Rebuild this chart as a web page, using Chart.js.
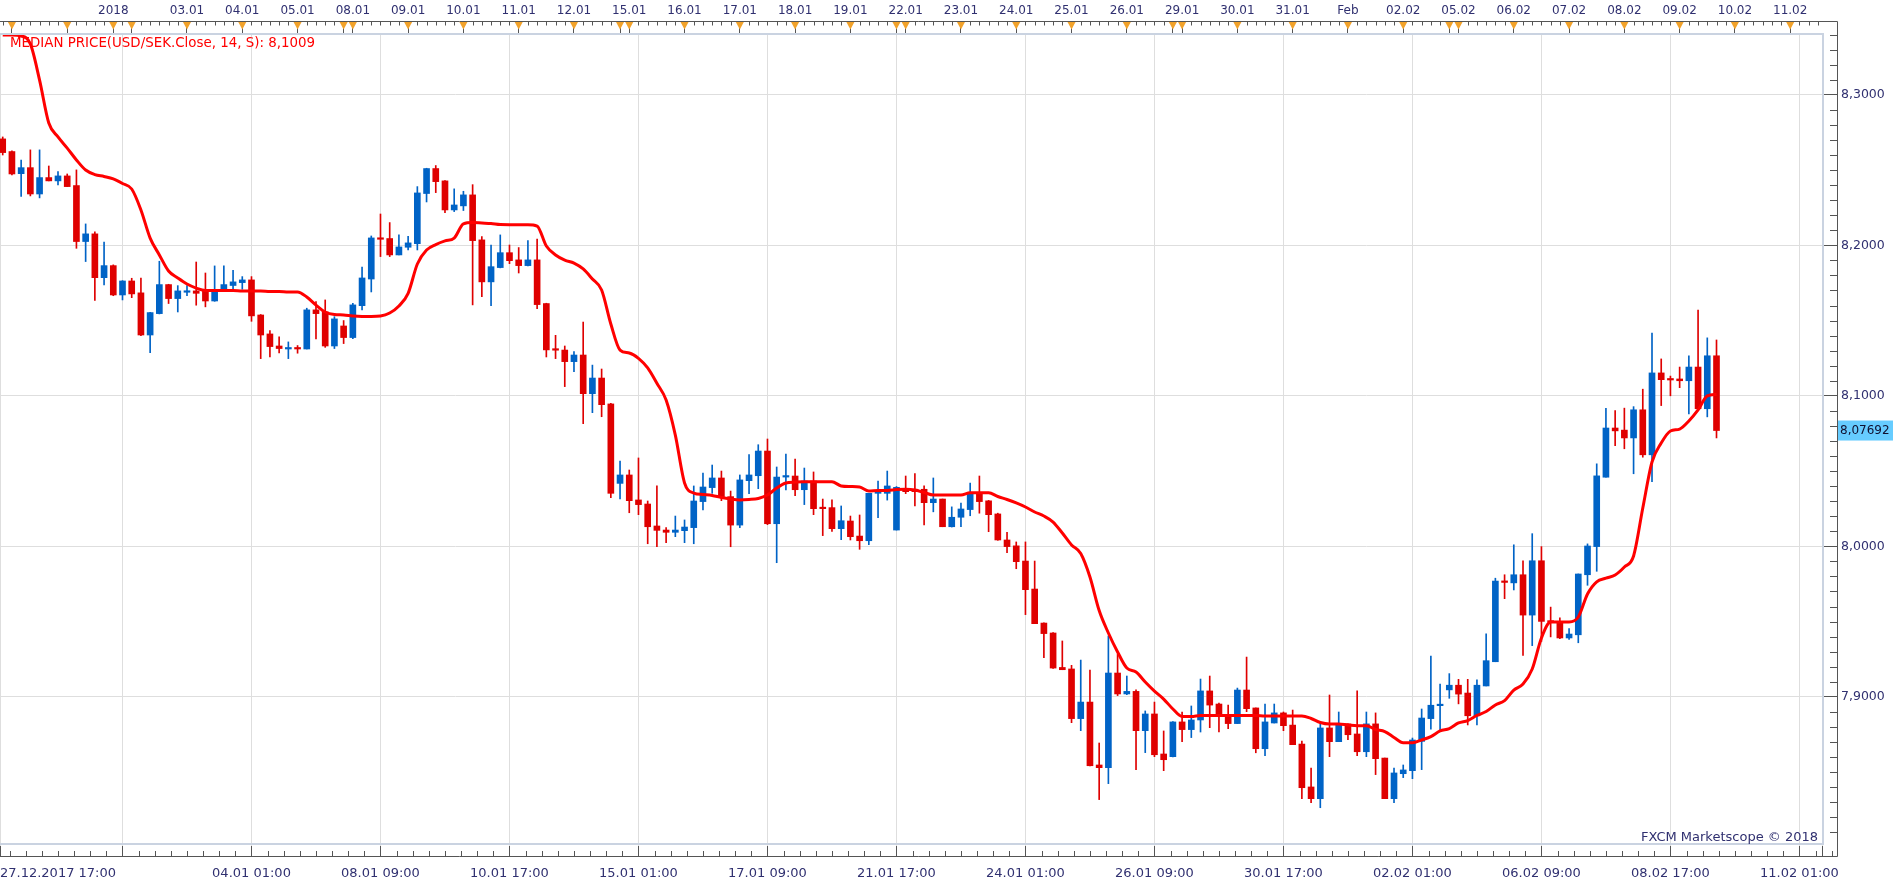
<!DOCTYPE html>
<html>
<head>
<meta charset="utf-8">
<script src="https://cdn.jsdelivr.net/npm/chart.js@4.4.1/dist/chart.umd.min.js"></script>
<style>
html,body{margin:0;padding:0;background:#fff;overflow:hidden}
#wrap{width:1903px;height:887px;position:relative}
</style>
</head>
<body>
<div id="wrap"><canvas id="c"></canvas></div>
<script>
// ---- data (USD/SEK, 4-hour candles) ----
const openPrice = [8.2707,8.2623,8.2476,8.2516,8.2341,8.2450,8.2428,8.2461,8.2397,8.2025,
8.2076,8.1785,8.1865,8.1670,8.1763,8.1684,8.1404,8.1546,8.1739,8.1646,
8.1688,8.1697,8.1697,8.1630,8.1697,8.1733,8.1752,8.1770,8.1537,8.1411,
8.1331,8.1311,8.1318,8.1311,8.1571,8.1557,8.1331,8.1464,8.1387,8.1599,
8.1776,8.2049,8.2045,8.1936,8.1987,8.2011,8.2344,8.2510,8.2428,8.2235,
8.2262,8.2335,8.2036,8.1757,8.1852,8.1951,8.1903,8.1865,8.1903,8.1613,
8.1311,8.1304,8.1227,8.1271,8.1014,8.1118,8.0946,8.0418,8.0474,8.0308,
8.0281,8.0135,8.0108,8.0093,8.0104,8.0124,8.0297,8.0390,8.0454,8.0330,
8.0141,8.0436,8.0469,8.0633,8.0150,8.0460,8.0467,8.0376,8.0434,8.0257,
8.0257,8.0117,8.0168,8.0068,8.0037,8.0352,8.0352,8.0108,8.0381,8.0379,
8.0379,8.0290,8.0314,8.0130,8.0193,8.0244,8.0352,8.0302,8.0215,8.0042,
8.0003,7.9902,7.9716,7.9490,7.9424,7.9195,7.9185,7.8855,7.8965,7.8547,
7.8529,7.9158,7.9019,7.9036,7.8775,7.8886,7.8620,7.8602,7.8833,7.8782,
7.8846,7.9039,7.8952,7.8873,7.8822,7.9045,7.8926,7.8655,7.8826,7.8893,
7.8812,7.8686,7.8401,7.8323,7.8793,7.8702,7.8820,7.8753,7.8635,7.8820,
7.8593,7.8323,7.8489,7.8509,7.8704,7.8855,7.8941,7.9046,7.9077,7.9025,
7.8874,7.9072,7.9233,7.9769,7.9757,7.9811,7.9543,7.9904,7.9505,7.9496,
7.9391,7.9412,7.9811,7.9998,8.0459,8.0786,8.0772,8.0720,8.0907,8.0608,
8.1152,8.1112,8.1112,8.1100,8.1191,8.0914,8.1266];

const highPrice = [8.2720,8.2627,8.2567,8.2634,8.2634,8.2527,8.2490,8.2474,8.2501,8.2142,
8.2089,8.2022,8.1870,8.1765,8.1781,8.1783,8.1555,8.1894,8.1741,8.1732,
8.1732,8.1889,8.1816,8.1863,8.1863,8.1834,8.1792,8.1792,8.1540,8.1433,
8.1391,8.1358,8.1334,8.1582,8.1626,8.1637,8.1526,8.1500,8.1615,8.1856,
8.2062,8.2208,8.2151,8.2069,8.2060,8.2390,8.2512,8.2530,8.2430,8.2375,
8.2359,8.2403,8.2058,8.2002,8.2069,8.2002,8.1985,8.2031,8.2042,8.1615,
8.1402,8.1331,8.1293,8.1490,8.1204,8.1178,8.0950,8.0567,8.0507,8.0587,
8.0301,8.0401,8.0124,8.0201,8.0175,8.0401,8.0487,8.0540,8.0500,8.0367,
8.0474,8.0609,8.0675,8.0713,8.0527,8.0613,8.0580,8.0520,8.0494,8.0314,
8.0308,8.0268,8.0201,8.0208,8.0352,8.0434,8.0500,8.0397,8.0467,8.0484,
8.0401,8.0454,8.0314,8.0262,8.0288,8.0420,8.0467,8.0305,8.0220,8.0093,
8.0029,8.0029,7.9902,7.9492,7.9426,7.9371,7.9209,7.9244,7.9178,7.8693,
7.9404,7.9282,7.9138,7.9047,7.8906,7.8965,7.8773,7.8835,7.8899,7.8939,
7.9118,7.9138,7.8959,7.8945,7.9058,7.9264,7.8926,7.8952,7.8952,7.8899,
7.8912,7.8706,7.8527,7.8820,7.9012,7.8899,7.8820,7.9039,7.8899,7.8893,
7.8593,7.8527,7.8547,7.8726,7.8919,7.9271,7.9084,7.9154,7.9116,7.9116,
7.9112,7.9419,7.9788,7.9811,8.0010,7.9904,8.0084,7.9998,7.9596,7.9524,
7.9454,7.9816,8.0016,8.0548,8.0916,8.0902,8.0918,8.0928,8.1044,8.1417,
8.1245,8.1131,8.1191,8.1266,8.1569,8.1385,8.1371];

const lowPrice = [8.2600,8.2468,8.2324,8.2328,8.2315,8.2428,8.2401,8.2390,8.1980,8.1892,
8.1633,8.1737,8.1665,8.1637,8.1652,8.1400,8.1287,8.1544,8.1613,8.1557,
8.1666,8.1602,8.1591,8.1628,8.1695,8.1708,8.1708,8.1495,8.1247,8.1258,
8.1285,8.1247,8.1283,8.1311,8.1378,8.1322,8.1314,8.1347,8.1380,8.1571,
8.1690,8.1925,8.1925,8.1936,8.1969,8.1969,8.2288,8.2350,8.2217,8.2224,
8.2231,8.1604,8.1659,8.1599,8.1850,8.1878,8.1816,8.1863,8.1579,8.1258,
8.1247,8.1061,8.1160,8.0815,8.0888,8.0861,8.0323,8.0314,8.0223,8.0210,
8.0017,7.9997,8.0024,8.0064,8.0024,8.0017,8.0241,8.0352,8.0303,7.9997,
8.0124,8.0350,8.0383,8.0144,7.9891,8.0374,8.0337,8.0277,8.0210,8.0071,
8.0099,8.0044,8.0042,7.9980,8.0011,8.0190,8.0307,8.0108,8.0350,8.0268,
8.0142,8.0229,8.0130,8.0128,8.0130,8.0203,8.0220,8.0097,8.0040,7.9958,
7.9851,7.9546,7.9486,7.9260,7.9189,7.9180,7.8828,7.8775,7.8540,7.8317,
7.8423,7.9008,7.9014,7.8516,7.8629,7.8602,7.8509,7.8600,7.8702,7.8729,
7.8766,7.8795,7.8766,7.8788,7.8822,7.8901,7.8628,7.8609,7.8826,7.8775,
7.8682,7.8323,7.8297,7.8263,7.8602,7.8702,7.8715,7.8609,7.8602,7.8483,
7.8323,7.8297,7.8463,7.8456,7.8516,7.8785,7.8778,7.8990,7.8953,7.8813,
7.8813,7.9072,7.9233,7.9652,7.9710,7.9275,7.9340,7.9368,7.9398,7.9386,
7.9382,7.9359,7.9741,7.9834,8.0459,8.0669,8.0648,8.0482,8.0592,8.0429,
8.0935,8.1000,8.1054,8.0879,8.0914,8.0860,8.0720];

const closePrice = [8.2616,8.2474,8.2516,8.2341,8.2450,8.2428,8.2461,8.2390,8.2025,8.2076,
8.1785,8.1865,8.1670,8.1763,8.1677,8.1404,8.1553,8.1739,8.1646,8.1697,
8.1697,8.1681,8.1630,8.1697,8.1739,8.1757,8.1770,8.1531,8.1404,8.1327,
8.1314,8.1318,8.1311,8.1571,8.1546,8.1331,8.1511,8.1387,8.1604,8.1783,
8.2049,8.2040,8.1936,8.1989,8.2016,8.2348,8.2510,8.2423,8.2235,8.2268,
8.2335,8.2031,8.1757,8.1858,8.1951,8.1898,8.1865,8.1903,8.1606,8.1305,
8.1303,8.1227,8.1271,8.1014,8.1118,8.0941,8.0352,8.0474,8.0303,8.0277,
8.0130,8.0106,8.0093,8.0108,8.0128,8.0301,8.0394,8.0454,8.0330,8.0141,
8.0441,8.0474,8.0633,8.0150,8.0460,8.0467,8.0376,8.0434,8.0250,8.0250,
8.0117,8.0170,8.0064,8.0037,8.0352,8.0363,8.0401,8.0392,8.0363,8.0363,
8.0290,8.0314,8.0130,8.0193,8.0248,8.0352,8.0297,8.0210,8.0042,7.9998,
7.9898,7.9712,7.9486,7.9420,7.9191,7.9180,7.8855,7.8965,7.8542,7.8529,
7.9158,7.9019,7.9036,7.8775,7.8886,7.8615,7.8582,7.8833,7.8782,7.8846,
7.9039,7.8945,7.8873,7.8822,7.9045,7.8921,7.8655,7.8833,7.8893,7.8808,
7.8682,7.8396,7.8323,7.8793,7.8702,7.8813,7.8748,7.8635,7.8820,7.8589,
7.8323,7.8494,7.8514,7.8713,7.8859,7.8944,7.8948,7.9077,7.9018,7.8874,
7.9077,7.9240,7.9769,7.9760,7.9811,7.9543,7.9904,7.9501,7.9496,7.9391,
7.9417,7.9816,8.0002,8.0468,8.0786,8.0767,8.0720,8.0907,8.0608,8.1152,
8.1107,8.1105,8.1100,8.1191,8.0914,8.1266,8.07692];

// MEDIAN PRICE(USD/SEK.Close, 14, S)
const medianPrice = [8.3397,8.3397,8.3391,8.3338,8.3098,8.2813,8.2720,8.2646,8.2567,8.2500,
8.2470,8.2457,8.2441,8.2411,8.2374,8.2235,8.2048,8.1936,8.1829,8.1783,
8.1743,8.1716,8.1700,8.1700,8.1700,8.1700,8.1696,8.1696,8.1696,8.1693,
8.1693,8.1690,8.1690,8.1656,8.1603,8.1557,8.1540,8.1537,8.1530,8.1527,
8.1527,8.1530,8.1550,8.1597,8.1681,8.1876,8.1969,8.2005,8.2029,8.2048,
8.2142,8.2151,8.2148,8.2145,8.2138,8.2137,8.2137,8.2137,8.2128,8.1995,
8.1936,8.1902,8.1882,8.1843,8.1776,8.1703,8.1477,8.1304,8.1284,8.1249,
8.1185,8.1083,8.0972,8.0739,8.0421,8.0354,8.0344,8.0338,8.0324,8.0314,
8.0308,8.0311,8.0318,8.0341,8.0387,8.0421,8.0427,8.0429,8.0429,8.0429,
8.0429,8.0401,8.0397,8.0394,8.0367,8.0371,8.0371,8.0377,8.0379,8.0374,
8.0357,8.0341,8.0341,8.0341,8.0341,8.0356,8.0356,8.0356,8.0331,8.0311,
8.0288,8.0261,8.0228,8.0201,8.0161,8.0088,8.0009,7.9952,7.9796,7.9573,
7.9424,7.9298,7.9191,7.9165,7.9098,7.9038,7.8985,7.8919,7.8869,7.8869,
7.8876,7.8876,7.8876,7.8876,7.8876,7.8876,7.8876,7.8872,7.8872,7.8872,
7.8872,7.8872,7.8856,7.8829,7.8819,7.8819,7.8813,7.8808,7.8808,7.8783,
7.8769,7.8730,7.8695,7.8695,7.8713,7.8736,7.8773,7.8789,7.8826,7.8842,
7.8876,7.8902,7.8946,7.8975,7.9045,7.9085,7.9185,7.9391,7.9497,7.9497,
7.9497,7.9530,7.9683,7.9764,7.9788,7.9809,7.9862,7.9936,8.0254,8.0560,
8.0686,8.0766,8.0779,8.0833,8.0906,8.0999,8.1009];

const yTickValues = [7.9, 8.0, 8.1, 8.2, 8.3];
const topTickIdx = [1,7,12,14,20,26,32,37,38,44,50,56,62,67,68,74,80,86,92,97,98,104,110,116,122,127,128,134,140,146,152,157,158,164,170,176,182,188,194];
const topTickLabels = ['','','2018','','03.01','04.01','05.01','','08.01','09.01','10.01','11.01','12.01','','15.01','16.01','17.01','18.01','19.01','','22.01','23.01','24.01','25.01','26.01','','29.01','30.01','31.01','Feb','02.02','','05.02','06.02','07.02','08.02','09.02','10.02','11.02'];
const bottomTickIdx = [-0.295,13,27,41,55,69,83,97,111,125,139,153,167,181,195,197.45];
const bottomTickLabels = ['27.12.2017 17:00','','04.01 01:00','08.01 09:00','10.01 17:00','15.01 01:00','17.01 09:00','21.01 17:00','24.01 01:00','26.01 09:00','30.01 17:00','02.02 01:00','06.02 09:00','08.02 17:00','11.02 01:00',''];
const lastPrice = 8.07692;
const legendText = 'MEDIAN PRICE(USD/SEK.Close, 14, S): 8,1009';
const watermark = 'FXCM Marketscope \u00A9 2018';

// ---- view settings ----
const X_MIN = -0.295, X_MAX = 197.45;
const Y_MIN = 7.800864, Y_MAX = 8.340399;
const FONT = 'DejaVu Sans';
const TEXT = '#303070';
const UP = '#0063c6', DOWN = '#df0000';
const GRID = '#dedede';
const TICK = '#555555';

Chart.defaults.font.family = FONT;

const idx = openPrice.map((_, i) => i);
const colors = idx.map(i => closePrice[i] > openPrice[i] ? UP : DOWN);

const decorPlugin = {
  id: 'decor',
  afterDraw(chart) {
    const ctx = chart.ctx, ca = chart.chartArea;
    const xs = chart.scales.x, ys = chart.scales.y;
    const fR = 1837.5, fT = 21.5, fB = 856.5;
    ctx.save();
    // plot border
    ctx.strokeStyle = '#cad3e1';
    ctx.lineWidth = 2;
    ctx.beginPath();
    ctx.moveTo(0, ca.top); ctx.lineTo(ca.right + 1, ca.top);
    ctx.lineTo(ca.right + 1, ca.bottom - 2); ctx.lineTo(0, ca.bottom - 2);
    ctx.stroke();
    // dark frame
    ctx.strokeStyle = TICK; ctx.lineWidth = 1;
    ctx.beginPath();
    ctx.moveTo(0, fT); ctx.lineTo(fR, fT); ctx.lineTo(fR, fB); ctx.lineTo(0, fB);
    ctx.stroke();
    // minor ticks
    ctx.beginPath();
    for (let k = 781; k <= 834; k++) {
      if (k % 10 === 0) continue;
      const py = Math.round(ys.getPixelForValue(k / 100)) + 0.5;
      ctx.moveTo(1830, py); ctx.lineTo(fR, py);
    }
    for (let k = -7; k < 120; k++) {
      if (k % 8 === 0) continue;
      const px = Math.round(xs.getPixelForValue(13 + 1.75 * k)) + 0.5;
      if (px < 0 || px > fR - 1) continue;
      ctx.moveTo(px, 851); ctx.lineTo(px, fB);
    }
    for (let k = 0; k <= 197; k++) {
      const px = Math.round(xs.getPixelForValue(k)) + 0.5;
      if (px > ca.right) continue;
      ctx.moveTo(px, fT); ctx.lineTo(px, fT + 4);
    }
    ctx.stroke();
    // day markers
    ctx.fillStyle = '#f2a22a';
    topTickIdx.forEach(v => {
      const px = xs.getPixelForValue(v);
      ctx.beginPath();
      ctx.moveTo(px - 4, fT + 0.5); ctx.lineTo(px + 4, fT + 0.5); ctx.lineTo(px, fT + 8);
      ctx.closePath(); ctx.fill();
    });
    // legend text
    ctx.fillStyle = '#ff0000';
    ctx.font = '13.4px ' + FONT;
    ctx.textBaseline = 'middle';
    ctx.textAlign = 'left';
    ctx.fillText(legendText, 10, 44);
    // watermark
    ctx.fillStyle = TEXT;
    ctx.font = '13px ' + FONT;
    ctx.textAlign = 'right';
    ctx.fillText(watermark, 1818, 838);
    // last price box
    const py = ys.getPixelForValue(lastPrice);
    ctx.fillStyle = '#66ccff';
    ctx.fillRect(1838, py - 10, 55, 20);
    ctx.fillStyle = '#101030';
    ctx.textAlign = 'left';
    ctx.font = '12px ' + FONT;
    ctx.fillText(lastPrice.toFixed(5).replace('.', ','), 1840, py);
    ctx.restore();
  }
};

new Chart(document.getElementById('c'), {
  type: 'bar',
  data: {
    datasets: [
      {
        type: 'line', label: 'median',
        data: idx.map(i => ({x: i, y: medianPrice[i]})),
        borderColor: '#ff0000', borderWidth: 3, pointRadius: 0,
        cubicInterpolationMode: 'monotone', order: 0,
        xAxisID: 'x', yAxisID: 'y'
      },
      {
        type: 'bar', label: 'body',
        data: idx.map(i => ({x: i, y: [Math.min(openPrice[i], closePrice[i]), Math.max(openPrice[i], closePrice[i])]})),
        backgroundColor: colors, borderWidth: 0, barThickness: 6, grouped: false,
        minBarLength: 1.5, order: 1, xAxisID: 'x', yAxisID: 'y'
      },
      {
        type: 'bar', label: 'wick',
        data: idx.map(i => ({x: i, y: [lowPrice[i], highPrice[i]]})),
        backgroundColor: colors, borderWidth: 0, barThickness: 1, grouped: false,
        minBarLength: 1, order: 2, xAxisID: 'x', yAxisID: 'y'
      }
    ]
  },
  options: {
    responsive: true, maintainAspectRatio: false, animation: false,
    events: [],
    layout: { padding: 0 },
    plugins: { legend: { display: false }, tooltip: { enabled: false }, title: { display: false } },
    scales: {
      x: {
        type: 'linear', position: 'bottom', min: X_MIN, max: X_MAX, offset: false,
        afterBuildTicks: s => { s.ticks = bottomTickIdx.map(v => ({value: v})); },
        afterFit: s => { s.height = 41; s.paddingLeft = 0; s.paddingRight = 0; },
        grid: { color: GRID, lineWidth: 1, offset: false, drawTicks: true, tickLength: 11, tickColor: TICK, tickWidth: 1 },
        border: { display: false },
        ticks: {
          autoSkip: false, maxRotation: 0, minRotation: 0, align: 'inner', padding: 9,
          color: TEXT, font: { family: FONT, size: 13 },
          callback: (v, i) => bottomTickLabels[i]
        }
      },
      xTop: {
        type: 'linear', axis: 'x', position: 'top', min: X_MIN, max: X_MAX, offset: false,
        afterBuildTicks: s => { s.ticks = topTickIdx.map(v => ({value: v})); },
        afterFit: s => { s.height = 34; s.paddingLeft = 0; s.paddingRight = 0; },
        grid: { drawOnChartArea: false, offset: false, drawTicks: true, tickLength: 12, tickColor: TICK, tickWidth: 1 },
        border: { display: false },
        ticks: {
          autoSkip: false, maxRotation: 0, minRotation: 0, padding: 4,
          color: TEXT, font: { family: FONT, size: 12 },
          callback: (v, i) => topTickLabels[i]
        }
      },
      y: {
        type: 'linear', position: 'right', min: Y_MIN, max: Y_MAX, beginAtZero: false,
        afterBuildTicks: s => { s.ticks = yTickValues.map(v => ({value: v})); },
        afterFit: s => { s.width = 81; s.paddingTop = 0; s.paddingBottom = 0; },
        grid: { color: GRID, lineWidth: 1, drawTicks: true, tickLength: 15, tickColor: TICK, tickWidth: 1 },
        border: { display: false },
        ticks: {
          padding: 4, color: TEXT, font: { family: FONT, size: 12.5 },
          callback: v => Number(v).toFixed(4).replace('.', ',')
        }
      }
    }
  },
  plugins: [decorPlugin]
});
</script>
</body>
</html>
